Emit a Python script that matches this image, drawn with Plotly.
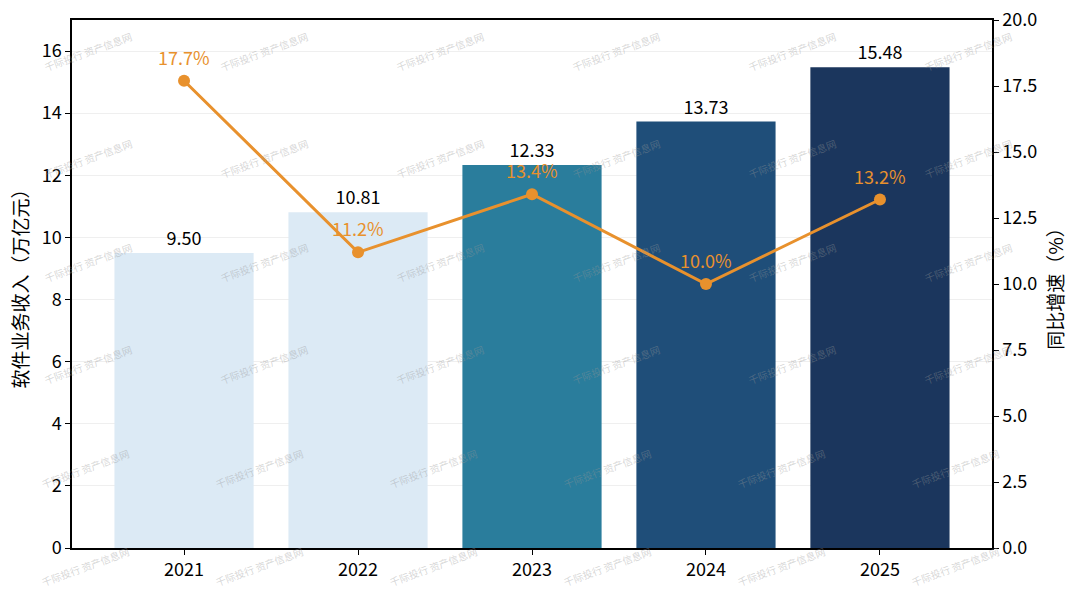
import plotly.graph_objects as go

# data
years = ['2021', '2022', '2023', '2024', '2025']
revenue = [9.50, 10.81, 12.33, 13.73, 15.48]   # 软件业务收入 (万亿元)
growth = [17.7, 11.2, 13.4, 10.0, 13.2]        # 同比增速 (%)
bar_colors = ['#dceaf5', '#dceaf5', '#2a7d9c', '#1f4e79', '#1b365d']
line_color = '#e8912d'

font_family = 'Noto Sans CJK SC'

fig = go.Figure()

# bars for revenue
fig.add_trace(go.Bar(
    x=years, y=revenue,
    marker=dict(color=bar_colors, line=dict(width=0)),
    width=0.8,
    text=[f'{v:.2f}' for v in revenue],
    textposition='outside',
    textfont=dict(size=18, color='black', family=font_family),
    cliponaxis=False,
    showlegend=False,
))

# growth line on right axis
fig.add_trace(go.Scatter(
    x=years, y=growth, yaxis='y2',
    mode='lines+markers',
    line=dict(color=line_color, width=3),
    marker=dict(color=line_color, size=12),
    showlegend=False,
))

# percent labels above the points (x given as category index)
for i, g in enumerate(growth):
    fig.add_annotation(
        x=i, y=g, xref='x', yref='y2',
        text=f'{g:.1f}%', showarrow=False, yshift=24,
        font=dict(size=18, color=line_color, family=font_family),
    )

# watermark "千际投行 资产信息网" tiled over the figure
rows_px = [52, 158, 262, 365, 468, 566]
for j, py in enumerate(rows_px):
    if j < 4:
        cols_px = [88 + 176 * i for i in range(6)]
    else:
        cols_px = [85 + 174 * i for i in range(6)]
    for px in cols_px:
        fig.add_annotation(
            x=(px - 72) / 920, y=(548 - py) / 528,
            xref='paper', yref='paper',
            xanchor='center', yanchor='middle',
            text='千际投行 资产信息网', showarrow=False, textangle=-20,
            font=dict(size=10, color='rgba(150,150,150,0.4)', family=font_family),
        )

fig.update_layout(
    width=1080, height=593,
    margin=dict(l=72, r=88, t=20, b=45, autoexpand=False),
    plot_bgcolor='white', paper_bgcolor='white',
    font=dict(family=font_family, size=18, color='black'),
    bargap=0.2,
    xaxis=dict(
        type='category',
        range=[-0.644, 4.644],
        showline=True, linecolor='black', linewidth=1.5, mirror=True,
        ticks='outside', ticklen=5, tickcolor='black',
        showgrid=False,
        tickfont=dict(size=18),
    ),
    yaxis=dict(
        range=[0, 17],
        tickvals=[0, 2, 4, 6, 8, 10, 12, 14, 16],
        showline=True, linecolor='black', linewidth=1.5,
        ticks='outside', ticklen=5, tickcolor='black',
        showgrid=True, gridcolor='#efefef', gridwidth=1,
        zeroline=False,
        title=dict(text='软件业务收入（万亿元）', font=dict(size=19), standoff=8),
        tickfont=dict(size=18),
    ),
    yaxis2=dict(
        range=[0, 20],
        overlaying='y', side='right',
        tickvals=[0, 2.5, 5, 7.5, 10, 12.5, 15, 17.5, 20],
        tickformat='.1f',
        showline=True, linecolor='black', linewidth=1.5,
        ticks='outside', ticklen=5, tickcolor='black',
        showgrid=False, zeroline=False,
        title=dict(text='同比增速（%）', font=dict(size=19), standoff=13),
        tickfont=dict(size=18),
    ),
)

# drop the default page margin so the plot sits where it should
fig.write_html('out.html', config={'displayModeBar': False},
               post_script="document.body.style.margin='0';")
